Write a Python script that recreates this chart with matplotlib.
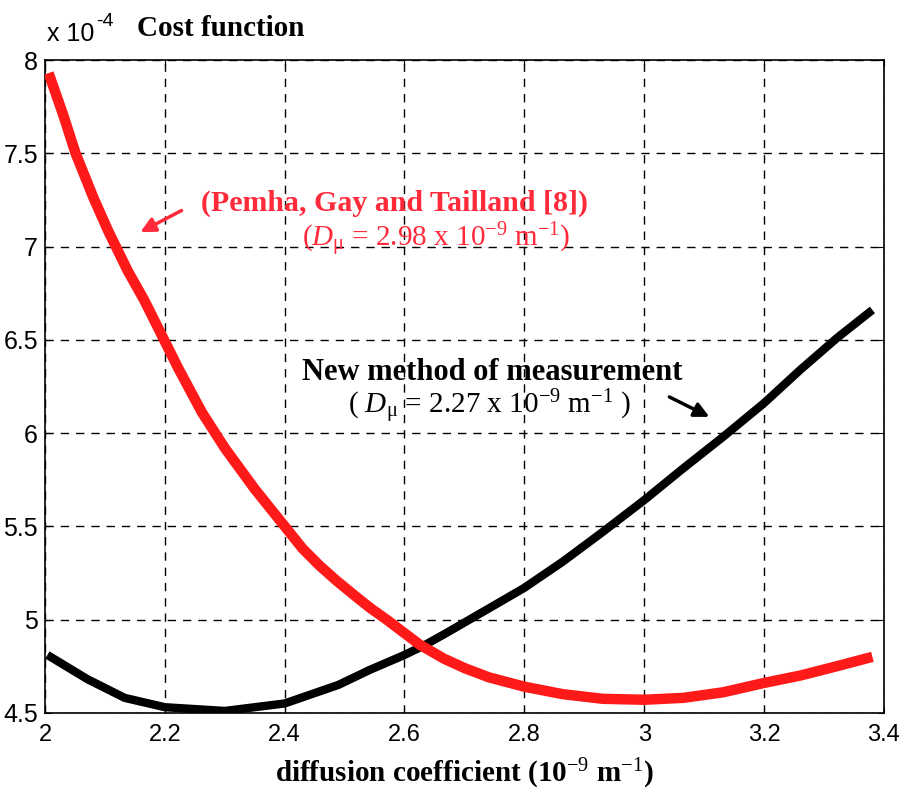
import numpy as np
import matplotlib.pyplot as plt

plt.rcParams['mathtext.fontset'] = 'custom'
plt.rcParams['mathtext.rm'] = 'Liberation Serif'
plt.rcParams['mathtext.it'] = 'Liberation Serif:italic'
plt.rcParams['mathtext.bf'] = 'Liberation Serif:bold'

# diffusion coefficient (10^-9) and cost values (x 10^-4)
x_red = [2.006, 2.031, 2.051, 2.081, 2.106, 2.138, 2.166, 2.194, 2.222, 2.262, 2.300,
         2.350, 2.400, 2.430, 2.458, 2.486, 2.514, 2.542, 2.570, 2.600, 2.626, 2.666,
         2.700, 2.741, 2.800, 2.864, 2.931, 3.000, 3.065, 3.132, 3.200, 3.261, 3.322,
         3.381]
y_red = [7.93, 7.70, 7.50, 7.26, 7.08, 6.87, 6.71, 6.53, 6.35, 6.11, 5.92,
         5.70, 5.50, 5.38, 5.29, 5.21, 5.136, 5.064, 5.00, 4.927, 4.864, 4.79,
         4.74, 4.69, 4.64, 4.60, 4.575, 4.57, 4.58, 4.61, 4.66, 4.70, 4.75,
         4.80]

x_black = [2.004, 2.071, 2.133, 2.200, 2.300, 2.400, 2.490, 2.542, 2.600, 2.632, 2.671,
           2.741, 2.800, 2.864, 2.931, 3.000, 3.065, 3.132, 3.200, 3.261, 3.322, 3.381]
y_black = [4.81, 4.68, 4.58, 4.53, 4.51, 4.55, 4.65, 4.73, 4.81, 4.86, 4.93,
           5.06, 5.17, 5.31, 5.47, 5.64, 5.81, 5.98, 6.16, 6.34, 6.51, 6.66]

xticks = [2, 2.2, 2.4, 2.6, 2.8, 3, 3.2, 3.4]
yticks = [4.5, 5, 5.5, 6, 6.5, 7, 7.5, 8]

serif = ['Liberation Serif', 'DejaVu Serif']
sans = ['Liberation Sans', 'DejaVu Sans']

fig = plt.figure(figsize=(9, 8), dpi=100)
ax = fig.add_axes([0.05, 0.109, 0.932, 0.816])

ax.plot(x_black, y_black, color='black', lw=6, solid_capstyle='butt', zorder=3)
ax.plot(x_red, y_red, color='#ff1a1a', lw=7.5, solid_capstyle='butt', zorder=4)

ax.set_xlim(2, 3.4)
ax.set_ylim(4.5, 8)
ax.set_xticks(xticks)
ax.set_xticklabels(['2', '2.2', '2.4', '2.6', '2.8', '3', '3.2', '3.4'], family=sans, fontsize=17)
ax.set_yticks(yticks)
ax.set_yticklabels(['4.5', '5', '5.5', '6', '6.5', '7', '7.5', '8'], family=sans, fontsize=18)
ax.tick_params(direction='in', length=4, top=True, right=True)
ax.tick_params(axis='x', pad=8)
ax.tick_params(axis='y', pad=5)
ax.grid(True, color='black', linestyle=(0, (6, 5)), linewidth=1)
for s in ax.spines.values():
    s.set_linewidth(1.2)

ax.set_xlabel('diffusion coefficient (10$^{-9}$ m$^{-1}$)', family=serif,
              fontweight='bold', fontsize=21, labelpad=8)

fig.text(0.052, 0.942, 'x 10', family=sans, fontsize=18, va='bottom')
fig.text(0.107, 0.963, '-4', family=sans, fontsize=14, va='bottom')
fig.text(0.152, 0.947, 'Cost function', family=serif, fontweight='bold',
         fontsize=21, va='bottom')

red_txt = '#ff2a3a'
ax.text(2.583, 7.234, '(Pemha, Gay and Tailland [8])', family=serif, fontweight='bold',
        fontsize=21.5, color=red_txt, ha='center', va='center')
ax.text(2.653, 7.035, '($\\mathit{D}_{\\mathrm{\\mu}}$ = 2.98 x 10$^{-9}$ m$^{-1}$)', family=serif,
        fontsize=21, color=red_txt, ha='center', va='center')
ax.annotate('', xy=(2.155, 7.07), xytext=(2.232, 7.20),
            arrowprops=dict(arrowstyle='-|>', color=red_txt, lw=2.5, mutation_scale=22))

ax.text(2.747, 6.323, 'New method of measurement', family=serif, fontweight='bold',
        fontsize=22, color='black', ha='center', va='center')
ax.text(2.742, 6.14, '( $\\mathit{D}_{\\mathrm{\\mu}}$ = 2.27 x 10$^{-9}$ m$^{-1}$ )', family=serif,
        fontsize=21, color='black', ha='center', va='center')
ax.annotate('', xy=(3.113, 6.08), xytext=(3.038, 6.20),
            arrowprops=dict(arrowstyle='-|>', color='black', lw=2.5, mutation_scale=22))

fig.savefig('out.png', dpi=100)
